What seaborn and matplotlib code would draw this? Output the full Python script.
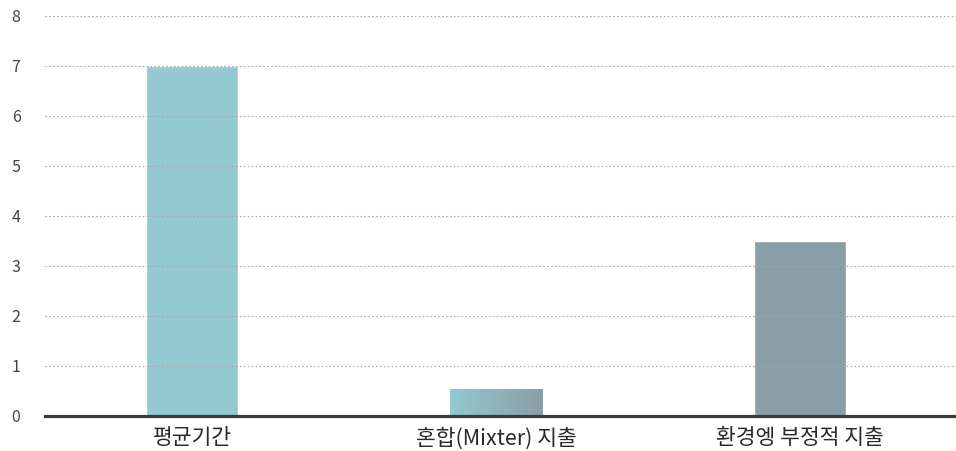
import matplotlib.pyplot as plt
import numpy as np
import pandas as pd
import seaborn as sns
from matplotlib.colors import LinearSegmentedColormap

sns.set_theme(style="white")
plt.rcParams["font.family"] = ["Noto Sans CJK KR", "DejaVu Sans"]

categories = ["평균기간", "혼합(Mixter) 지출", "환경엥 부정적 지출"]
values = [7.0, 0.55, 3.5]
bar_colors = ["#93c9d1", "#93c9d1", "#8a9ea8"]
y_ticks = [0, 1, 2, 3, 4, 5, 6, 7, 8]

df = pd.DataFrame({"category": categories, "value": values})

fig = plt.figure(figsize=(9.56, 4.51), dpi=100)
ax = fig.add_axes([45 / 956, 35 / 451, 911 / 956, 400 / 451])

sns.barplot(data=df, x="category", y="value", hue="category", palette=bar_colors,
            width=0.305, saturation=1, legend=False, ax=ax, zorder=1)

# gradient fill for the middle bar
mid = ax.patches[1]
x0, y0 = mid.get_x(), mid.get_y()
w, h = mid.get_width(), mid.get_height()
grad_cmap = LinearSegmentedColormap.from_list("g", ["#93c9d1", "#8a9ea8"])
img = ax.imshow(np.linspace(0, 1, 256).reshape(1, -1), cmap=grad_cmap, aspect="auto",
                extent=[x0, x0 + w, y0, y0 + h], zorder=1.5)
img.set_clip_path(mid)

ax.set_xlim(-0.4836, 2.513)
ax.set_ylim(0, 8)
ax.set_yticks(y_ticks)
ax.yaxis.grid(True, linestyle=(0, (1.5, 2)), color="#a8a8a8", linewidth=0.8, zorder=2)
ax.set_axisbelow(False)
for line in ax.get_ygridlines():
    line.set_zorder(2)

for side in ["top", "right", "left"]:
    ax.spines[side].set_visible(False)
ax.spines["bottom"].set_color("#3a3a3a")
ax.spines["bottom"].set_linewidth(2.3)
ax.spines["bottom"].set_zorder(3)

ax.tick_params(axis="y", length=0, pad=24, labelsize=11.5, labelcolor="#444444")
for t in ax.get_yticklabels():
    t.set_horizontalalignment("left")
ax.tick_params(axis="x", length=0, pad=8, labelsize=15.5, labelcolor="#2a2a2a")
ax.set_xlabel("")
ax.set_ylabel("")

fig.savefig("out.png", dpi=100)
